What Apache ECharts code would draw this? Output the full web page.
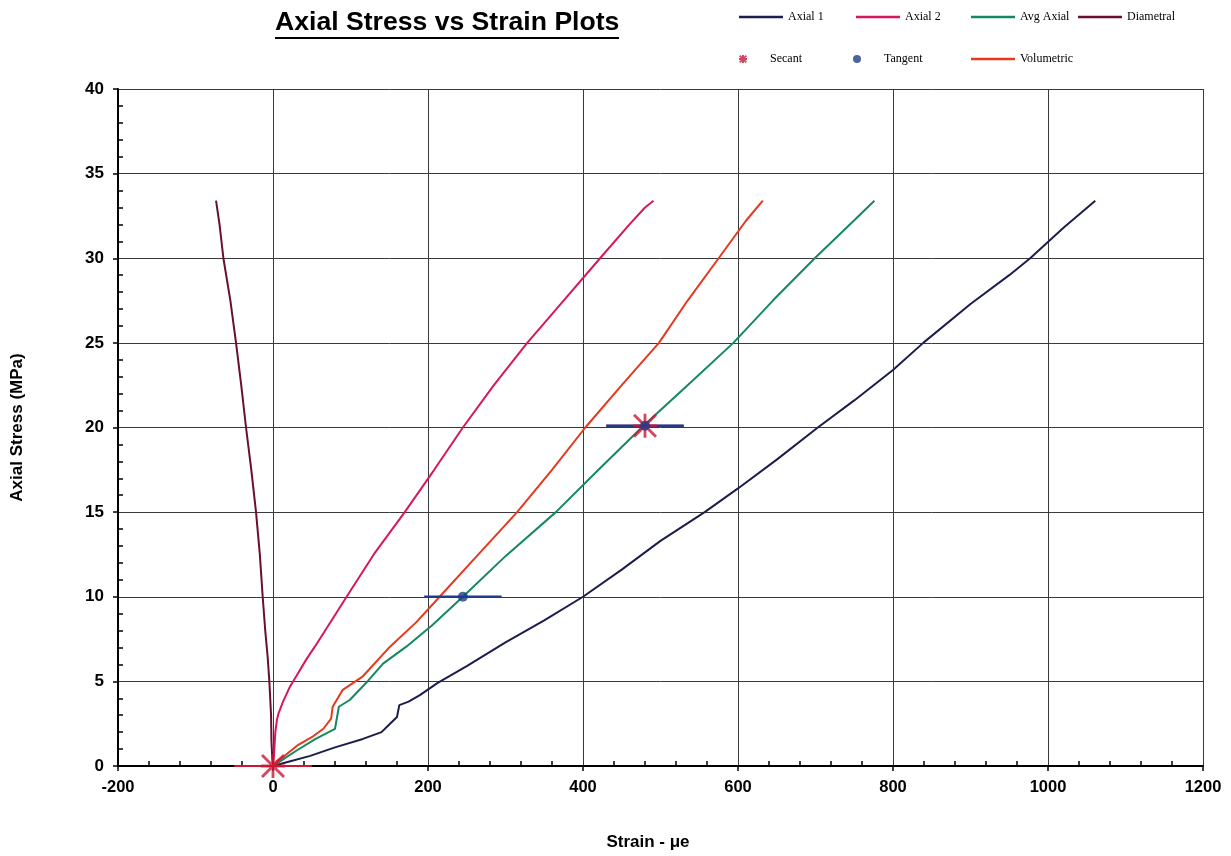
<!DOCTYPE html>
<html>
<head>
<meta charset="utf-8">
<script src="https://cdn.jsdelivr.net/npm/echarts@6/dist/echarts.min.js"></script>
<style>
html,body{margin:0;padding:0;background:#fff;}
#chart{width:1231px;height:856px;}
</style>
</head>
<body>
<div id="chart"></div>
<script>
// ---------- data (strain µe, stress MPa) ----------
var axial1X = [0, 20, 48, 80, 116, 140, 151, 160, 163, 175, 190, 212, 250, 300, 350, 400, 450, 500, 557, 600, 650, 703, 750, 800, 839, 900, 950, 977, 1020, 1061];
var axial1Y = [0, 0.25, 0.6, 1.1, 1.6, 2.0, 2.5, 2.9, 3.6, 3.8, 4.2, 4.9, 5.9, 7.3, 8.6, 10.0, 11.6, 13.3, 15.0, 16.4, 18.1, 20.0, 21.6, 23.4, 25.0, 27.3, 29.0, 30.0, 31.8, 33.4];

var axial2X = [0, 1, 2, 3, 5, 7, 13, 22, 30, 43, 54, 70, 95, 130, 170, 208, 245, 285, 328, 375, 422, 460, 480, 491];
var axial2Y = [0, 0.5, 1.2, 2.0, 2.7, 3.1, 3.8, 4.7, 5.3, 6.3, 7.05, 8.2, 10.0, 12.5, 15.0, 17.5, 20.0, 22.5, 25.0, 27.5, 30.0, 32.0, 33.0, 33.4];

var avgX = [0, 10, 30, 55, 80, 85, 99, 120, 142, 172, 205, 245, 300, 365, 420, 478, 535, 594, 645, 699, 740, 776];
var avgY = [0, 0.3, 0.9, 1.6, 2.2, 3.5, 3.9, 4.9, 6.05, 7.05, 8.3, 10.0, 12.4, 15.0, 17.5, 20.1, 22.5, 25.0, 27.5, 30.0, 31.8, 33.4];

var diaX = [0, -1, -2, -2.5, -4.7, -7, -10, -13.3, -17, -21.9, -28, -34.8, -41, -47.7, -55, -64, -69, -73.5];
var diaY = [0, 0.5, 1.5, 3, 5, 6.5, 8, 10, 12.5, 15, 17.5, 20, 22.5, 25, 27.5, 30, 32, 33.4];

var volX = [0, 5, 15, 31, 50, 65, 75, 77, 90, 116, 151, 185, 215, 265, 315, 360, 403, 450, 498, 535, 575, 610, 632];
var volY = [0, 0.3, 0.6, 1.2, 1.7, 2.2, 2.8, 3.5, 4.5, 5.3, 7.05, 8.5, 10.0, 12.5, 15.0, 17.5, 20.0, 22.5, 25.0, 27.5, 30.0, 32.2, 33.4];

var secantX = [0, 480];
var secantY = [0, 20.1];
var secantErr = [50, 50];

var tangentX = [245, 480];
var tangentY = [10.0, 20.1];
var tangentErr = [50, 50];

var xTicks = [-200, 0, 200, 400, 600, 800, 1000, 1200];
var yTicks = [0, 5, 10, 15, 20, 25, 30, 35, 40];

// ---------- helpers ----------
function pairs(xs, ys) { return xs.map(function (x, i) { return [x, ys[i]]; }); }

var C = {
  axial1: '#1c1d4e',
  axial2: '#d6175f',
  avg: '#13895c',
  dia: '#6b0f2e',
  vol: '#e5391f',
  secant: '#cc1636',
  tangent: '#1f3c8a'
};

var STAR = 'path://M10.6 0 L13.4 0 L13.4 24 L10.6 24 Z M0 10.6 L24 10.6 L24 13.4 L0 13.4 Z M2 0 L24 22 L22 24 L0 2 Z M22 0 L24 2 L2 24 L0 22 Z';
var LEGSTAR = 'path://M9 0 L15 0 L15 24 L9 24 Z M0 9 L24 9 L24 15 L0 15 Z M4 0 L24 20 L20 24 L0 4 Z M20 0 L24 4 L4 24 L0 20 Z';

function lineSeries(name, xs, ys, color) {
  return {
    name: name, type: 'line', data: pairs(xs, ys),
    symbol: 'none', showSymbol: false, animation: false,
    lineStyle: { color: color, width: 2 },
    itemStyle: { color: color },
    z: 3
  };
}

function barSeries(xs, ys, errs, color, width, z) {
  var out = [];
  for (var i = 0; i < xs.length; i++) {
    out.push({
      type: 'line', data: [[xs[i] - errs[i], ys[i]], [xs[i] + errs[i], ys[i]]],
      symbol: 'none', showSymbol: false, animation: false, silent: true,
      lineStyle: { color: color, width: width }, z: z
    });
  }
  return out;
}

var series = [
  lineSeries('Axial 1', axial1X, axial1Y, C.axial1),
  lineSeries('Axial 2', axial2X, axial2Y, C.axial2),
  lineSeries('Avg Axial', avgX, avgY, C.avg),
  lineSeries('Diametral', diaX, diaY, C.dia),
  lineSeries('Volumetric', volX, volY, C.vol)
];
series = series.concat(barSeries(secantX, secantY, secantErr, C.secant, 2, 4));
series = series.concat(barSeries(tangentX, tangentY, tangentErr, C.tangent, 2.5, 5));
series.push({
  name: 'Secant', type: 'scatter', data: pairs(secantX, secantY),
  symbol: STAR, symbolSize: 24, animation: false,
  itemStyle: { color: C.secant }, z: 6
});
series.push({
  name: 'Tangent', type: 'scatter', data: pairs(tangentX, tangentY),
  symbol: 'circle', symbolSize: 10, animation: false,
  itemStyle: { color: C.tangent }, z: 7
});

var legendText = { fontFamily: 'Liberation Serif', fontSize: 12, color: '#000' };
function legLine(name, left, top) {
  return { data: [{ name: name, icon: 'rect' }], left: left, top: top, itemWidth: 44, itemHeight: 2.5,
           padding: 0, textStyle: legendText, selectedMode: false };
}
function legMark(name, left, top, icon, size) {
  return { data: [{ name: name, icon: icon }], left: left, top: top, itemWidth: 44, itemHeight: size,
           padding: 0, textStyle: legendText, selectedMode: false };
}

var axisFont = { fontFamily: 'Liberation Sans', fontWeight: 'bold', color: '#000' };
function plain(v) { return String(v); }

var option = {
  backgroundColor: '#fff',
  animation: false,
  title: {
    text: 'Axial Stress vs Strain Plots',
    left: 275, top: 9, padding: 0,
    textStyle: { fontFamily: 'Liberation Sans', fontWeight: 'bold', fontSize: 26.6, color: '#000' }
  },
  graphic: [{
    type: 'line', shape: { x1: 275, y1: 38, x2: 619, y2: 38 },
    style: { stroke: '#000', lineWidth: 2 }, silent: true
  }],
  legend: [
    legLine('Axial 1', 739, 11),
    legLine('Axial 2', 856, 11),
    legLine('Avg Axial', 971, 11),
    legLine('Diametral', 1078, 11),
    legMark('Secant', 739, 53, LEGSTAR, 8),
    legMark('Tangent', 853, 53, 'circle', 8),
    legLine('Volumetric', 971, 53)
  ],
  grid: { left: 118, right: 28, top: 89, bottom: 86, containLabel: false },
  xAxis: [{
    type: 'value', min: xTicks[0], max: xTicks[xTicks.length - 1], interval: 200,
    name: 'Strain - μe', nameLocation: 'middle', nameGap: 68,
    nameTextStyle: { fontFamily: 'Liberation Sans', fontWeight: 'bold', fontSize: 17, color: '#000', padding: [0, 25, 0, 0] },
    axisLine: { show: true, onZero: false, lineStyle: { color: '#000', width: 2 } },
    axisTick: { show: true, length: 5, lineStyle: { color: '#000', width: 1.5 } },
    axisLabel: Object.assign({ fontSize: 16.5, margin: 13, formatter: plain }, axisFont),
    splitLine: { show: true, lineStyle: { color: '#3a3a3a', width: 1 } }
  }, {
    type: 'value', min: xTicks[0], max: xTicks[xTicks.length - 1], interval: 200,
    position: 'bottom',
    axisLine: { show: false, onZero: false },
    axisTick: { show: false, inside: true },
    axisLabel: { show: false },
    splitLine: { show: false },
    minorTick: { show: true, splitNumber: 5, length: 5, lineStyle: { color: '#000', width: 1.5 } }
  }],
  yAxis: [{
    type: 'value', min: yTicks[0], max: yTicks[yTicks.length - 1], interval: 5,
    name: 'Axial Stress (MPa)', nameLocation: 'middle', nameGap: 92, nameRotate: 90,
    nameTextStyle: { fontFamily: 'Liberation Sans', fontWeight: 'bold', fontSize: 17, color: '#000' },
    axisLine: { show: true, onZero: false, lineStyle: { color: '#000', width: 2 } },
    axisTick: { show: true, length: 5, lineStyle: { color: '#000', width: 1.5 } },
    axisLabel: Object.assign({ fontSize: 17, margin: 14, formatter: plain }, axisFont),
    splitLine: { show: true, lineStyle: { color: '#3a3a3a', width: 1 } }
  }, {
    type: 'value', min: yTicks[0], max: yTicks[yTicks.length - 1], interval: 5,
    position: 'left',
    axisLine: { show: false, onZero: false },
    axisTick: { show: false, inside: true },
    axisLabel: { show: false },
    splitLine: { show: false },
    minorTick: { show: true, splitNumber: 5, length: 5, lineStyle: { color: '#000', width: 1.5 } }
  }],
  series: series
};

var chart = echarts.init(document.getElementById('chart'), null, { renderer: 'canvas' });
chart.setOption(option);
</script>
</body>
</html>
